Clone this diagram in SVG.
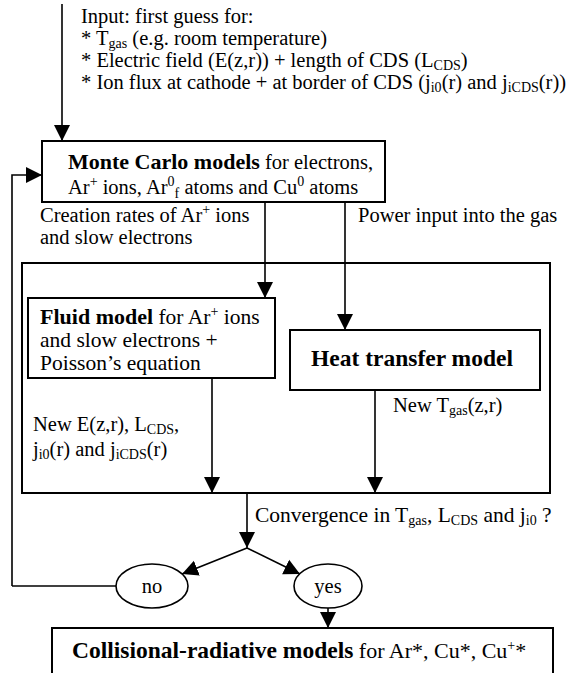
<svg xmlns="http://www.w3.org/2000/svg" width="569" height="673" viewBox="0 0 569 673">
<style>
text{font-family:"Liberation Serif","Times New Roman",serif;font-size:20.5px;fill:#000}
.b{font-weight:bold;font-size:22px}
.s{font-size:14px}
.box{fill:none;stroke:#000;stroke-width:2}
.ln{fill:none;stroke:#000;stroke-width:1.6}
.arr{marker-end:url(#ah)}
.ell{fill:#fff;stroke:#000;stroke-width:1.6}
</style>
<defs>
<marker id="ah" markerUnits="userSpaceOnUse" markerWidth="16" markerHeight="18" viewBox="0 0 16 18" refX="16" refY="9" orient="auto">
<path d="M0,1 L16,9 L0,17 Z" fill="#000"/>
</marker>
</defs>
<rect width="569" height="673" fill="#fff"/>
<g id="connectors">
<line class="ln arr" x1="62" y1="4" x2="62" y2="141"/>
<polyline class="ln arr" points="12,586 12,175 42,175"/>
<line class="ln arr" x1="265" y1="202" x2="265" y2="298"/>
<line class="ln arr" x1="345" y1="202" x2="345" y2="330"/>
<line class="ln arr" x1="212" y1="378" x2="212" y2="493"/>
<line class="ln arr" x1="375" y1="390" x2="375" y2="493"/>
<line class="ln arr" x1="247" y1="493" x2="247" y2="548"/>
<line class="ln arr" x1="247" y1="548" x2="182" y2="574"/>
<line class="ln arr" x1="247" y1="548" x2="300" y2="574"/>
<line class="ln" x1="12" y1="586" x2="116" y2="586"/>
<line class="ln arr" x1="328" y1="608" x2="328" y2="628"/>
</g>
<g id="input">
<text x="81" y="23">Input: first guess for:</text>
<text x="81" y="45">* T<tspan class="s" dy="3">gas</tspan><tspan dy="-3"> (e.g. room temperature)</tspan></text>
<text x="81" y="67">* Electric field (E(z,r)) + length of CDS (L<tspan class="s" dy="3">CDS</tspan><tspan dy="-3">)</tspan></text>
<text x="81" y="89">* Ion flux at cathode + at border of CDS  (j<tspan class="s" dy="3">i0</tspan><tspan dy="-3">(r) and j</tspan><tspan class="s" dy="3">iCDS</tspan><tspan dy="-3">(r))</tspan></text>
</g>
<g id="monte-carlo">
<rect class="box" x="42" y="141" width="343" height="61"/>
<text x="68" y="169"><tspan class="b">Monte Carlo models</tspan> for electrons,</text>
<text x="68" y="194">Ar<tspan class="s" dy="-8">+</tspan><tspan dy="8"> ions, Ar</tspan><tspan class="s" dy="-8">0</tspan><tspan class="s" dy="12">f</tspan><tspan dy="-4"> atoms and Cu</tspan><tspan class="s" dy="-8">0</tspan><tspan dy="8"> atoms</tspan></text>
</g>
<g id="labels">
<text x="40" y="222">Creation rates of Ar<tspan class="s" dy="-8">+</tspan><tspan dy="8">  ions</tspan></text>
<text x="40" y="244">and slow electrons</text>
<text x="358" y="222">Power input into the gas</text>
<text x="33" y="431">New E(z,r), L<tspan class="s" dy="3">CDS</tspan><tspan dy="-3">,</tspan></text>
<text x="33" y="456">j<tspan class="s" dy="3">i0</tspan><tspan dy="-3">(r) and j</tspan><tspan class="s" dy="3">iCDS</tspan><tspan dy="-3">(r)</tspan></text>
<text x="393" y="412">New T<tspan class="s" dy="3">gas</tspan><tspan dy="-3">(z,r)</tspan></text>
<text x="255" y="522" style="font-size:21.5px">Convergence in T<tspan class="s" dy="3">gas</tspan><tspan dy="-3">, L</tspan><tspan class="s" dy="3">CDS</tspan><tspan dy="-3"> and j</tspan><tspan class="s" dy="3">i0</tspan><tspan dy="-3"> ?</tspan></text>
</g>
<g id="coupled">
<rect class="box" x="22" y="263" width="528" height="230"/>
</g>
<g id="fluid">
<rect class="box" x="28" y="298" width="247" height="80"/>
<text x="40" y="324" style="font-size:21.5px"><tspan class="b">Fluid model</tspan> for Ar<tspan class="s" dy="-8">+</tspan><tspan dy="8"> ions</tspan></text>
<text x="40" y="347" style="font-size:21.5px">and slow electrons +</text>
<text x="40" y="370" style="font-size:21.5px">Poisson’s equation</text>
</g>
<g id="heat">
<rect class="box" x="290" y="330" width="250" height="60"/>
<text class="b" x="412" y="366" text-anchor="middle" style="font-size:23.5px">Heat transfer model</text>
</g>
<g id="no">
<ellipse class="ell" cx="152" cy="586" rx="36" ry="22"/>
<text x="152" y="593" text-anchor="middle">no</text>
</g>
<g id="yes">
<ellipse class="ell" cx="328" cy="586" rx="34" ry="22"/>
<text x="328" y="593" text-anchor="middle">yes</text>
</g>
<g id="collisional">
<rect class="box" x="52" y="628" width="501" height="60"/>
<text x="72" y="658" style="font-size:22px"><tspan class="b" style="font-size:23.5px">Collisional-radiative models</tspan> for Ar*, Cu*, Cu<tspan class="s" dy="-8">+</tspan><tspan dy="8">*</tspan></text>
</g>
</svg>
